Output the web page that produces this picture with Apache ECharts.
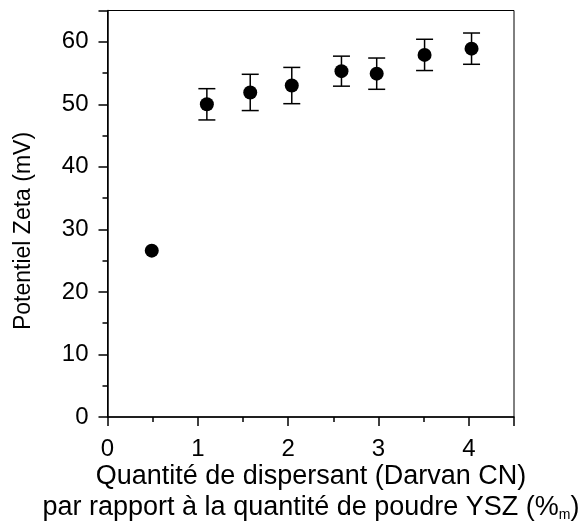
<!DOCTYPE html>
<html><head><meta charset="utf-8">
<script src="https://cdn.jsdelivr.net/npm/echarts@6/dist/echarts.min.js"></script>
<style>html,body{margin:0;padding:0;background:#fff}#c{width:581px;height:527px}</style>
</head><body><div id="c"></div>
<script>
const xVals = [0.49, 1.10, 1.58, 2.04, 2.59, 2.98, 3.51, 4.03];
const yVals = [26.6, 50.0, 51.9, 53.0, 55.3, 54.9, 57.9, 58.9];
const errVals = [0, 2.5, 2.9, 2.9, 2.4, 2.5, 2.5, 2.5];
const xTicks = [0, 1, 2, 3, 4];
const yTicks = [0, 10, 20, 30, 40, 50, 60];
const xTitle1 = 'Quantité de dispersant (Darvan CN)';
const xTitle2 = 'par rapport à la quantité de poudre YSZ (%';
const xTitle2Sub = 'm';
const yTitle = 'Potentiel Zeta (mV)';

const font = 'Liberation Sans, Arial, sans-serif';
const chart = echarts.init(document.getElementById('c'));
const pts = xVals.map((x, i) => [x, yVals[i]]);
const errData = xVals.map((x, i) => [x, yVals[i], errVals[i]]);

chart.setOption({
  animation: false,
  grid: {left: 107.5, right: 67, top: 10.5, bottom: 110, show: true, borderColor: '#000', borderWidth: 1},
  xAxis: {
    type: 'value', min: 0, max: 4.5, interval: 1,
    axisLine: {lineStyle: {color: '#000', width: 1.5}},
    axisTick: {show: true, length: 9, lineStyle: {color: '#000', width: 1.5}},
    minorTick: {show: true, splitNumber: 2, length: 5, lineStyle: {color: '#000', width: 1.5}},
    splitLine: {show: false},
    axisLabel: {color: '#000', fontSize: 24, fontFamily: font, margin: 20,
      formatter: v => (xTicks.indexOf(v) >= 0 ? String(v) : '')}
  },
  yAxis: {
    type: 'value', min: 0, max: 65, interval: 10,
    axisLine: {lineStyle: {color: '#000', width: 1.5}},
    axisTick: {show: true, length: 9, lineStyle: {color: '#000', width: 1.5}},
    minorTick: {show: true, splitNumber: 2, length: 5, lineStyle: {color: '#000', width: 1.5}},
    splitLine: {show: false},
    axisLabel: {color: '#000', fontSize: 24, fontFamily: font, margin: 19,
      formatter: v => (yTicks.indexOf(v) >= 0 ? String(v) : '')}
  },
  series: [
    {
      type: 'custom',
      data: errData,
      renderItem: function (params, api) {
        const x = api.value(0), y = api.value(1), e = api.value(2);
        if (!e) return null;
        const top = api.coord([x, y + e]);
        const bot = api.coord([x, y - e]);
        const hw = 8.5;
        const st = {stroke: '#000', lineWidth: 1.5};
        return {type: 'group', children: [
          {type: 'line', shape: {x1: top[0], y1: top[1], x2: bot[0], y2: bot[1]}, style: st},
          {type: 'line', shape: {x1: top[0] - hw, y1: top[1], x2: top[0] + hw, y2: top[1]}, style: st},
          {type: 'line', shape: {x1: bot[0] - hw, y1: bot[1], x2: bot[0] + hw, y2: bot[1]}, style: st}
        ]};
      },
      z: 2
    },
    {
      type: 'scatter', data: pts, symbol: 'circle', symbolSize: 14,
      itemStyle: {color: '#000', opacity: 1}, z: 3
    }
  ],
  graphic: [
    {type: 'text', x: 311, y: 477,
      style: {text: xTitle1, font: '27px ' + font, fill: '#000', align: 'center', verticalAlign: 'middle'}},
    {type: 'text', x: 311, y: 508,
      style: {
        text: '{a|' + xTitle2 + '}{s|' + xTitle2Sub + '}{a|)}',
        align: 'center', verticalAlign: 'middle',
        rich: {
          a: {fontSize: 27, fontFamily: font, color: '#000'},
          s: {fontSize: 14, fontFamily: font, color: '#000', padding: [14, 0, 0, 0]}
        }
      }},
    {type: 'text', x: 24, y: 231, rotation: Math.PI / 2,
      style: {text: yTitle, font: '23px ' + font, fill: '#000', align: 'center', verticalAlign: 'middle'}}
  ]
});
</script>
</body></html>
